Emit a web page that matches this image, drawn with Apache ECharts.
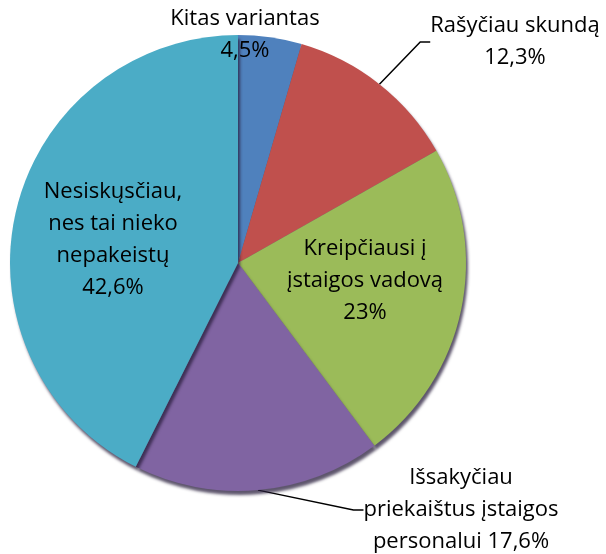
<!DOCTYPE html>
<html>
<head>
<meta charset="utf-8">
<script src="https://cdn.jsdelivr.net/npm/echarts@6/dist/echarts.min.js"></script>
<style>
  html, body { margin: 0; padding: 0; background: #fff; }
  #chart { width: 606px; height: 554px; }
</style>
</head>
<body>
<div id="chart"></div>
<script>
// duomenys
var categories = ['Kitas variantas', 'Rašyčiau skundą', 'Kreipčiausi į įstaigos vadovą',
  'Išsakyčiau priekaištus įstaigos personalui', 'Nesiskųsčiau, nes tai nieko nepakeistų'];
var values = [4.5, 12.3, 23, 17.6, 42.6];
var labelTexts = ['Kitas variantas', 'Rašyčiau skundą', 'Kreipčiausi į\nįstaigos vadovą',
  'Išsakyčiau\npriekaištus įstaigos\npersonalui', 'Nesiskųsčiau,\nnes tai nieko\nnepakeistų'];
var colors = ['#4F81BD', '#C0504D', '#9BBB59', '#8064A2', '#4BACC6'];

var chart = echarts.init(document.getElementById('chart'));

function pct(v) {
  return String(v).replace('.', ',') + '%';
}

var seriesData = values.map(function (v, i) {
  var item = { name: categories[i], value: v, itemStyle: { color: colors[i] } };
  var txt = labelTexts[i];
  if (i === 3) {
    txt = txt + ' ' + pct(v); // paskutinė eilutė kartu su procentu
  } else {
    txt = txt + '\n' + pct(v);
  }
  item.label = { formatter: txt };
  if (i === 2 || i === 4) {
    item.label.position = 'inside';
    item.labelLine = { show: false };
  }
  return item;
});

// pirmai etiketei linijos nereikia
seriesData[0].labelLine = { show: false };
// kad linija prisitvirtintų prie pirmos eilutės
seriesData[1].label.padding = [18, 0, 0, 0];

// kur dėti etiketes
var labelSpots = {
  0: { x: 245, y: 35, align: 'center', verticalAlign: 'middle' },
  1: { x: 515, y: 42, align: 'center', verticalAlign: 'middle' },
  2: { x: 365, y: 281, align: 'center', verticalAlign: 'middle' },
  3: { x: 461, y: 510, align: 'center', verticalAlign: 'middle' },
  4: { x: 113, y: 240, align: 'center', verticalAlign: 'middle' }
};

var option = {
  animation: false,
  series: [{
    type: 'pie',
    center: [238, 263],
    radius: 228,
    startAngle: 90,
    clockwise: true,
    data: seriesData,
    itemStyle: {
      borderWidth: 0,
      shadowColor: 'rgba(40,30,60,0.75)',
      shadowBlur: 3,
      shadowOffsetX: 2,
      shadowOffsetY: 4
    },
    label: {
      show: true,
      position: 'outside',
      color: '#000',
      fontFamily: 'Open Sans',
      fontSize: 22,
      lineHeight: 32,
      align: 'center'
    },
    labelLine: {
      show: true,
      length: 10,
      length2: 10,
      lineStyle: { color: '#000', width: 1.5 }
    },
    labelLayout: function (params) {
      var s = labelSpots[params.dataIndex];
      return s ? s : {};
    }
  }]
};

chart.setOption(option);
</script>
</body>
</html>
